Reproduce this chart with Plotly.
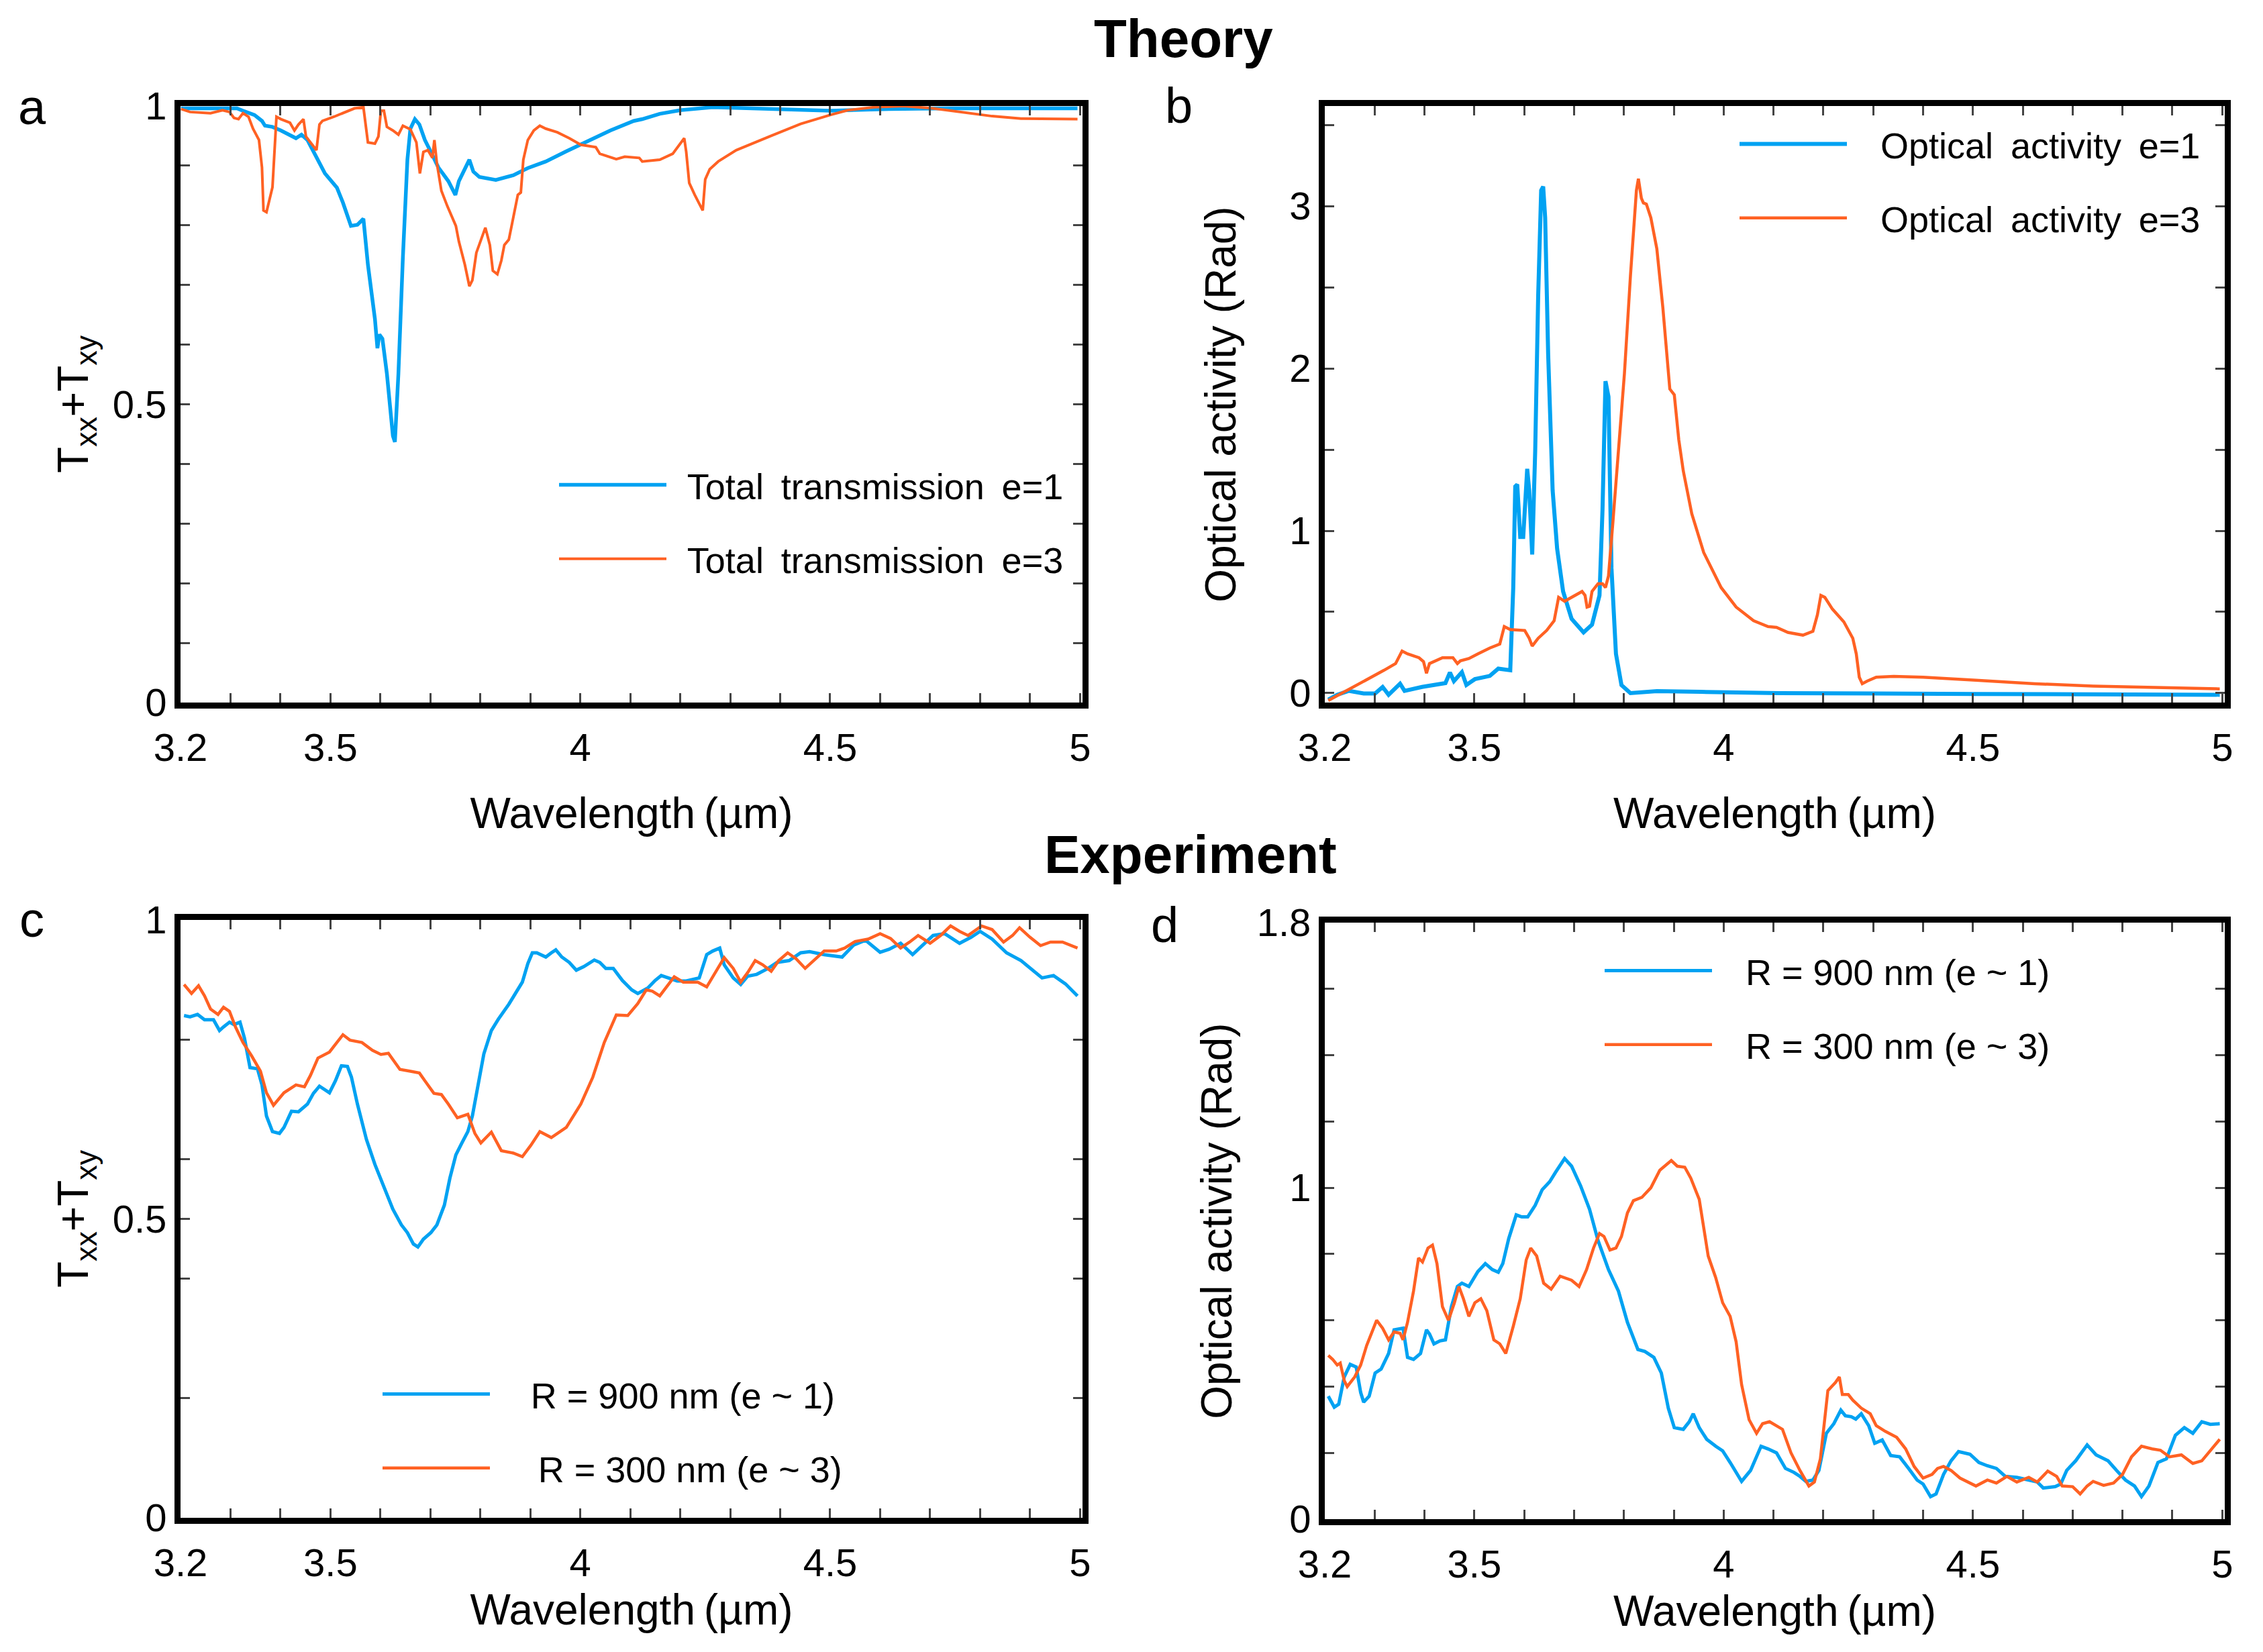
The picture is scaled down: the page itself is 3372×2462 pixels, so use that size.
import plotly.graph_objects as go

# ---------------- data ----------------
# Panel a : Theory, total transmission
a_e1_x = [3.201, 3.313, 3.325, 3.348, 3.363, 3.369, 3.384, 3.401, 3.431, 3.442, 3.454, 3.466, 3.489, 3.513, 3.525,
          3.541, 3.554, 3.566, 3.575, 3.589, 3.594, 3.598, 3.604, 3.613, 3.625, 3.629, 3.636, 3.645, 3.654, 3.660,
          3.669, 3.678, 3.689, 3.701, 3.716, 3.736, 3.750, 3.757, 3.769, 3.778, 3.786, 3.798, 3.831, 3.866, 3.895,
          3.931, 3.972, 4.013, 4.060, 4.107, 4.124, 4.159, 4.200, 4.265, 4.382, 4.500, 4.618, 4.735, 4.995]
a_e1_y = [0.996, 0.996, 0.992, 0.985, 0.975, 0.967, 0.965, 0.959, 0.946, 0.952, 0.943, 0.923, 0.887, 0.863, 0.838,
          0.799, 0.801, 0.811, 0.734, 0.643, 0.594, 0.617, 0.610, 0.551, 0.447, 0.437, 0.551, 0.747, 0.910, 0.962,
          0.978, 0.969, 0.943, 0.923, 0.897, 0.874, 0.851, 0.874, 0.894, 0.910, 0.890, 0.881, 0.876, 0.884, 0.896,
          0.907, 0.924, 0.941, 0.959, 0.975, 0.978, 0.987, 0.993, 0.998, 0.995, 0.992, 0.995, 0.996, 0.996]
a_e3_x = [3.201, 3.219, 3.260, 3.284, 3.298, 3.307, 3.316, 3.325, 3.336, 3.345, 3.357, 3.363, 3.366, 3.372, 3.384,
          3.388, 3.392, 3.401, 3.419, 3.428, 3.436, 3.446, 3.451, 3.460, 3.472, 3.478, 3.484, 3.507, 3.525, 3.548,
          3.566, 3.569, 3.575, 3.589, 3.596, 3.601, 3.607, 3.613, 3.625, 3.636, 3.645, 3.660, 3.672, 3.679, 3.686,
          3.695, 3.704, 3.708, 3.713, 3.722, 3.734, 3.751, 3.757, 3.769, 3.778, 3.784, 3.792, 3.810, 3.819, 3.825,
          3.834, 3.842, 3.848, 3.857, 3.866, 3.875, 3.881, 3.886, 3.895, 3.907, 3.919, 3.931, 3.954, 3.978, 4.001,
          4.031, 4.039, 4.072, 4.089, 4.118, 4.124, 4.159, 4.185, 4.200, 4.208, 4.212, 4.218, 4.229, 4.238, 4.245,
          4.250, 4.259, 4.276, 4.312, 4.382, 4.441, 4.500, 4.535, 4.588, 4.647, 4.706, 4.765, 4.824, 4.882, 4.995]
a_e3_y = [0.995, 0.990, 0.988, 0.993, 0.990, 0.980, 0.978, 0.988, 0.982, 0.962, 0.943, 0.897, 0.825, 0.822, 0.864,
          0.930, 0.982, 0.978, 0.972, 0.959, 0.969, 0.978, 0.949, 0.939, 0.926, 0.969, 0.975, 0.982, 0.988, 0.996,
          0.998, 0.975, 0.939, 0.937, 0.949, 0.992, 0.992, 0.965, 0.959, 0.952, 0.967, 0.961, 0.939, 0.887, 0.923,
          0.926, 0.913, 0.943, 0.904, 0.858, 0.832, 0.799, 0.773, 0.734, 0.698, 0.708, 0.754, 0.796, 0.767, 0.724,
          0.718, 0.741, 0.767, 0.776, 0.812, 0.851, 0.855, 0.910, 0.943, 0.959, 0.967, 0.962, 0.956, 0.946, 0.935,
          0.931, 0.920, 0.911, 0.915, 0.913, 0.907, 0.910, 0.920, 0.936, 0.946, 0.923, 0.871, 0.851, 0.835, 0.825,
          0.877, 0.894, 0.907, 0.926, 0.950, 0.970, 0.985, 0.993, 0.998, 1.000, 0.996, 0.990, 0.983, 0.979, 0.978]

# Panel b : Theory, optical activity (rad)
b_e1_x = [3.207, 3.225, 3.248, 3.278, 3.301, 3.316, 3.328, 3.351, 3.360, 3.395, 3.442, 3.451, 3.459, 3.475, 3.484,
          3.501, 3.531, 3.548, 3.572, 3.578, 3.582, 3.586, 3.592, 3.598, 3.606, 3.610, 3.616, 3.622, 3.628, 3.634,
          3.638, 3.642, 3.648, 3.657, 3.666, 3.678, 3.695, 3.719, 3.736, 3.751, 3.757, 3.763, 3.769, 3.775, 3.784,
          3.795, 3.813, 3.866, 3.954, 4.112, 4.500, 4.995]
b_e1_y = [-0.04, -0.010, 0.014, -0.002, -0.002, 0.038, -0.010, 0.058, 0.014, 0.038, 0.062, 0.127, 0.074, 0.129, 0.050,
          0.086, 0.106, 0.151, 0.141, 0.650, 1.273, 1.285, 0.962, 0.962, 1.381, 1.249, 0.854, 1.489, 2.448, 3.096,
          3.120, 2.928, 2.089, 1.249, 0.890, 0.626, 0.458, 0.374, 0.422, 0.602, 1.129, 1.921, 1.825, 0.770, 0.242,
          0.050, 0.000, 0.012, 0.008, 0.000, -0.005, -0.010]
b_e3_x = [3.207, 3.236, 3.266, 3.295, 3.319, 3.342, 3.351, 3.355, 3.366, 3.389, 3.398, 3.404, 3.410, 3.419, 3.436,
          3.457, 3.466, 3.472, 3.489, 3.507, 3.531, 3.551, 3.560, 3.572, 3.601, 3.610, 3.616, 3.628, 3.645, 3.660,
          3.669, 3.681, 3.701, 3.716, 3.722, 3.726, 3.731, 3.736, 3.748, 3.757, 3.763, 3.769, 3.778, 3.789, 3.801,
          3.813, 3.825, 3.829, 3.835, 3.839, 3.845, 3.854, 3.866, 3.878, 3.892, 3.901, 3.910, 3.919, 3.936, 3.960,
          3.995, 4.025, 4.060, 4.089, 4.106, 4.129, 4.159, 4.179, 4.188, 4.195, 4.203, 4.218, 4.241, 4.259, 4.266,
          4.272, 4.278, 4.288, 4.306, 4.341, 4.400, 4.506, 4.624, 4.741, 4.859, 4.995]
b_e3_y = [-0.046, 0.002, 0.050, 0.098, 0.141, 0.182, 0.242, 0.259, 0.242, 0.218, 0.194, 0.122, 0.182, 0.194, 0.218,
          0.218, 0.182, 0.199, 0.213, 0.242, 0.278, 0.302, 0.410, 0.391, 0.386, 0.338, 0.290, 0.338, 0.386, 0.446,
          0.590, 0.566, 0.602, 0.626, 0.602, 0.530, 0.535, 0.626, 0.674, 0.674, 0.650, 0.722, 1.058, 1.489, 1.969,
          2.568, 3.096, 3.168, 3.048, 3.019, 3.012, 2.928, 2.736, 2.376, 1.873, 1.837, 1.561, 1.369, 1.106, 0.866,
          0.650, 0.530, 0.446, 0.410, 0.405, 0.374, 0.357, 0.381, 0.482, 0.602, 0.590, 0.518, 0.439, 0.338, 0.242,
          0.098, 0.058, 0.074, 0.098, 0.103, 0.098, 0.079, 0.058, 0.043, 0.034, 0.026]

# Panel c : Experiment, total transmission
c_r900_x = [3.207, 3.219, 3.234, 3.248, 3.266, 3.278, 3.286, 3.298, 3.307, 3.319, 3.328, 3.339, 3.354, 3.363, 3.372,
            3.384, 3.398, 3.407, 3.422, 3.436, 3.454, 3.466, 3.478, 3.486, 3.498, 3.510, 3.522, 3.534, 3.542, 3.554,
            3.572, 3.589, 3.607, 3.625, 3.642, 3.654, 3.666, 3.675, 3.686, 3.701, 3.713, 3.728, 3.739, 3.751, 3.763,
            3.775, 3.784, 3.795, 3.807, 3.822, 3.836, 3.857, 3.872, 3.884, 3.895, 3.904, 3.913, 3.931, 3.942, 3.951,
            3.963, 3.978, 3.992, 4.007, 4.028, 4.039, 4.051, 4.066, 4.084, 4.103, 4.115, 4.135, 4.150, 4.162, 4.176,
            4.194, 4.212, 4.238, 4.253, 4.265, 4.279, 4.288, 4.306, 4.321, 4.335, 4.353, 4.376, 4.394, 4.418, 4.441,
            4.459, 4.488, 4.524, 4.547, 4.571, 4.600, 4.618, 4.641, 4.665, 4.682, 4.706, 4.729, 4.759, 4.782, 4.800,
            4.824, 4.853, 4.882, 4.924, 4.947, 4.971, 4.995]
c_r900_y = [0.840, 0.838, 0.842, 0.833, 0.833, 0.815, 0.821, 0.829, 0.825, 0.829, 0.802, 0.753, 0.751, 0.724, 0.672,
            0.646, 0.643, 0.653, 0.680, 0.679, 0.692, 0.710, 0.722, 0.718, 0.711, 0.731, 0.756, 0.755, 0.737, 0.692,
            0.633, 0.591, 0.555, 0.516, 0.490, 0.477, 0.458, 0.453, 0.466, 0.477, 0.490, 0.523, 0.568, 0.607, 0.627,
            0.646, 0.672, 0.724, 0.776, 0.815, 0.834, 0.859, 0.880, 0.896, 0.927, 0.945, 0.945, 0.938, 0.945, 0.950,
            0.938, 0.929, 0.916, 0.922, 0.933, 0.929, 0.919, 0.919, 0.899, 0.883, 0.877, 0.886, 0.899, 0.907, 0.903,
            0.898, 0.898, 0.903, 0.942, 0.948, 0.953, 0.925, 0.903, 0.892, 0.906, 0.909, 0.919, 0.929, 0.932, 0.945,
            0.947, 0.942, 0.938, 0.958, 0.966, 0.946, 0.951, 0.961, 0.942, 0.955, 0.974, 0.977, 0.961, 0.971, 0.981,
            0.968, 0.945, 0.932, 0.903, 0.907, 0.893, 0.873]
c_r300_x = [3.207, 3.222, 3.236, 3.248, 3.260, 3.275, 3.286, 3.298, 3.310, 3.325, 3.342, 3.360, 3.372, 3.386, 3.407,
            3.431, 3.448, 3.460, 3.475, 3.498, 3.510, 3.525, 3.539, 3.563, 3.584, 3.601, 3.616, 3.639, 3.660, 3.678,
            3.689, 3.707, 3.722, 3.736, 3.754, 3.775, 3.789, 3.801, 3.822, 3.842, 3.866, 3.884, 3.901, 3.919, 3.942,
            3.972, 4.001, 4.025, 4.048, 4.072, 4.095, 4.115, 4.132, 4.144, 4.159, 4.174, 4.188, 4.206, 4.235, 4.253,
            4.271, 4.288, 4.306, 4.321, 4.335, 4.350, 4.365, 4.382, 4.397, 4.415, 4.432, 4.450, 4.471, 4.488, 4.512,
            4.529, 4.550, 4.576, 4.600, 4.621, 4.641, 4.659, 4.676, 4.700, 4.721, 4.741, 4.759, 4.776, 4.803, 4.824,
            4.847, 4.865, 4.879, 4.900, 4.921, 4.941, 4.965, 4.995]
c_r300_y = [0.892, 0.877, 0.890, 0.873, 0.851, 0.842, 0.854, 0.847, 0.821, 0.795, 0.773, 0.747, 0.711, 0.690, 0.711,
            0.724, 0.721, 0.740, 0.769, 0.779, 0.792, 0.808, 0.799, 0.795, 0.782, 0.775, 0.777, 0.750, 0.747, 0.744,
            0.731, 0.710, 0.708, 0.692, 0.669, 0.675, 0.643, 0.627, 0.645, 0.614, 0.610, 0.604, 0.623, 0.646, 0.636,
            0.653, 0.692, 0.737, 0.795, 0.841, 0.840, 0.860, 0.883, 0.881, 0.873, 0.890, 0.905, 0.896, 0.896, 0.888,
            0.912, 0.937, 0.919, 0.896, 0.912, 0.932, 0.925, 0.914, 0.932, 0.945, 0.935, 0.919, 0.935, 0.948, 0.948,
            0.953, 0.964, 0.968, 0.977, 0.969, 0.953, 0.963, 0.974, 0.961, 0.974, 0.990, 0.981, 0.974, 0.990, 0.984,
            0.963, 0.974, 0.987, 0.971, 0.957, 0.963, 0.963, 0.953]

# Panel d : Experiment, optical activity (rad)
d_r900_x = [3.207, 3.219, 3.228, 3.239, 3.251, 3.263, 3.272, 3.278, 3.289, 3.301, 3.313, 3.328, 3.339, 3.357, 3.366,
            3.378, 3.392, 3.404, 3.410, 3.419, 3.431, 3.442, 3.454, 3.466, 3.475, 3.489, 3.507, 3.522, 3.536, 3.548,
            3.557, 3.569, 3.584, 3.595, 3.607, 3.622, 3.636, 3.651, 3.663, 3.681, 3.695, 3.713, 3.731, 3.748, 3.769,
            3.789, 3.807, 3.828, 3.842, 3.860, 3.875, 3.889, 3.901, 3.919, 3.931, 3.939, 3.951, 3.966, 3.984, 3.998,
            4.013, 4.036, 4.054, 4.075, 4.089, 4.106, 4.124, 4.141, 4.153, 4.165, 4.179, 4.191, 4.206, 4.221, 4.235,
            4.244, 4.256, 4.265, 4.276, 4.291, 4.303, 4.318, 4.335, 4.353, 4.371, 4.388, 4.400, 4.415, 4.426, 4.441,
            4.456, 4.471, 4.494, 4.512, 4.529, 4.547, 4.565, 4.588, 4.612, 4.629, 4.641, 4.665, 4.676, 4.688, 4.706,
            4.729, 4.747, 4.771, 4.788, 4.806, 4.824, 4.838, 4.853, 4.871, 4.888, 4.906, 4.924, 4.941, 4.959, 4.976,
            4.995]
d_r900_y = [0.371, 0.338, 0.347, 0.429, 0.467, 0.459, 0.382, 0.353, 0.371, 0.441, 0.453, 0.500, 0.571, 0.576, 0.488,
            0.482, 0.500, 0.571, 0.559, 0.529, 0.538, 0.541, 0.641, 0.702, 0.712, 0.702, 0.747, 0.771, 0.753, 0.745,
            0.771, 0.847, 0.918, 0.912, 0.912, 0.947, 0.994, 1.018, 1.047, 1.088, 1.065, 1.006, 0.935, 0.841, 0.753,
            0.688, 0.594, 0.512, 0.506, 0.488, 0.441, 0.335, 0.276, 0.271, 0.294, 0.318, 0.276, 0.241, 0.220, 0.206,
            0.171, 0.114, 0.147, 0.220, 0.212, 0.200, 0.153, 0.141, 0.129, 0.114, 0.118, 0.147, 0.259, 0.288, 0.329,
            0.312, 0.309, 0.302, 0.318, 0.282, 0.229, 0.239, 0.192, 0.188, 0.153, 0.118, 0.106, 0.068, 0.076, 0.135,
            0.176, 0.204, 0.196, 0.171, 0.161, 0.153, 0.129, 0.126, 0.118, 0.112, 0.094, 0.098, 0.106, 0.147, 0.176,
            0.224, 0.194, 0.176, 0.147, 0.118, 0.100, 0.068, 0.100, 0.171, 0.182, 0.253, 0.276, 0.259, 0.294, 0.286,
            0.288]
d_r300_x = [3.207, 3.216, 3.225, 3.231, 3.239, 3.245, 3.260, 3.272, 3.284, 3.304, 3.316, 3.328, 3.339, 3.351, 3.357,
            3.366, 3.378, 3.388, 3.396, 3.407, 3.416, 3.425, 3.436, 3.448, 3.460, 3.469, 3.478, 3.489, 3.501, 3.513,
            3.525, 3.539, 3.551, 3.563, 3.578, 3.592, 3.604, 3.613, 3.625, 3.639, 3.654, 3.672, 3.695, 3.710, 3.725,
            3.739, 3.751, 3.760, 3.772, 3.784, 3.795, 3.807, 3.819, 3.836, 3.854, 3.872, 3.895, 3.907, 3.922, 3.934,
            3.951, 3.969, 3.984, 3.998, 4.013, 4.025, 4.036, 4.051, 4.066, 4.078, 4.092, 4.118, 4.135, 4.153, 4.171,
            4.182, 4.194, 4.209, 4.224, 4.232, 4.238, 4.250, 4.259, 4.276, 4.294, 4.306, 4.324, 4.347, 4.365, 4.382,
            4.400, 4.418, 4.429, 4.441, 4.456, 4.474, 4.506, 4.529, 4.547, 4.568, 4.588, 4.612, 4.629, 4.650, 4.668,
            4.679, 4.700, 4.715, 4.729, 4.741, 4.762, 4.782, 4.800, 4.818, 4.838, 4.859, 4.876, 4.894, 4.918, 4.941,
            4.959, 4.976, 4.995]
d_r300_y = [0.494, 0.482, 0.465, 0.471, 0.418, 0.400, 0.429, 0.465, 0.524, 0.600, 0.576, 0.541, 0.565, 0.561, 0.541,
            0.594, 0.688, 0.788, 0.776, 0.818, 0.827, 0.771, 0.641, 0.600, 0.653, 0.702, 0.665, 0.612, 0.653, 0.665,
            0.629, 0.541, 0.529, 0.500, 0.582, 0.665, 0.782, 0.818, 0.794, 0.712, 0.694, 0.733, 0.721, 0.702, 0.753,
            0.818, 0.862, 0.853, 0.812, 0.818, 0.853, 0.924, 0.961, 0.971, 1.000, 1.053, 1.082, 1.065, 1.062, 1.029,
            0.965, 0.794, 0.729, 0.653, 0.612, 0.535, 0.406, 0.300, 0.259, 0.288, 0.294, 0.271, 0.200, 0.147, 0.100,
            0.112, 0.182, 0.388, 0.412, 0.429, 0.376, 0.376, 0.359, 0.335, 0.318, 0.282, 0.265, 0.247, 0.212, 0.159,
            0.124, 0.135, 0.153, 0.159, 0.147, 0.124, 0.100, 0.118, 0.109, 0.129, 0.112, 0.126, 0.112, 0.145, 0.129,
            0.100, 0.098, 0.076, 0.100, 0.114, 0.102, 0.109, 0.135, 0.188, 0.220, 0.212, 0.208, 0.188, 0.194, 0.168,
            0.176, 0.206, 0.241]

# tick labels
x_tickvals = [3.2, 3.5, 4, 4.5, 5]
x_ticktext = ["3.2", "3.5", "4", "4.5", "5"]
yt_trans = [0, 0.5, 1]
yt_trans_text = ["0", "0.5", "1"]
yt_theory_oa = [0, 1, 2, 3]
yt_theory_oa_text = ["0", "1", "2", "3"]
yt_exp_oa = [0, 1, 1.8]
yt_exp_oa_text = ["0", "1", "1.8"]

NB = "\u00a0"
TH = "\u2009"
names_a = [NB + TH + "Total" + TH + " transmission" + TH + " e=1", NB + TH + "Total" + TH + " transmission" + TH + " e=3"]
names_b = [NB * 3 + "Optical" + TH + " activity" + TH + " e=1", NB * 3 + "Optical" + TH + " activity" + TH + " e=3"]
names_c = [NB * 3 + TH + "R = 900 nm (e ~ 1)", NB * 3 + TH + TH + "R = 300 nm (e ~ 3)"]
names_d = [NB * 3 + "R = 900 nm (e ~ 1)", NB * 3 + "R = 300 nm (e ~ 3)"]

# ---------------- styling ----------------
W, H = 3372, 2462
BLUE = "#00A2F2"
ORANGE = "#FF6123"
FONT = "Liberation Sans, Arial, sans-serif"

fig = go.Figure()

def add(x, y, color, width, name, xa, ya, leg, grp):
    fig.add_trace(go.Scatter(x=x, y=y, mode="lines", name=name,
                             line=dict(color=color, width=width, shape="linear"),
                             xaxis=xa, yaxis=ya, legend=leg, legendgroup=grp,
                             showlegend=True))

add(a_e1_x, a_e1_y, BLUE, 5.5, names_a[0], "x", "y", "legend", "a1")
add(a_e3_x, a_e3_y, ORANGE, 4, names_a[1], "x", "y", "legend", "a3")
add(b_e1_x, b_e1_y, BLUE, 6, names_b[0], "x2", "y2", "legend2", "b1")
add(b_e3_x, b_e3_y, ORANGE, 4.5, names_b[1], "x2", "y2", "legend2", "b3")
add(c_r900_x, c_r900_y, BLUE, 5, names_c[0], "x3", "y3", "legend3", "c1")
add(c_r300_x, c_r300_y, ORANGE, 4.5, names_c[1], "x3", "y3", "legend3", "c3")
add(d_r900_x, d_r900_y, BLUE, 5, names_d[0], "x4", "y4", "legend4", "d1")
add(d_r300_x, d_r300_y, ORANGE, 4.5, names_d[1], "x4", "y4", "legend4", "d3")

XL = [269 / W, 1613 / W]
XR = [1974 / W, 3315 / W]
YT = [1 - 1047 / H, 1 - 158 / H]
YB = [1 - 2262 / H, 1 - 1371 / H]
YB2 = [1 - 2264 / H, 1 - 1375 / H]

tickfont = dict(family=FONT, size=58, color="black")

def xaxis(domain, anchor, standoff):
    return dict(domain=domain, anchor=anchor, range=[3.2, 5.005], tickvals=x_tickvals, ticktext=x_ticktext,
                ticks="inside", ticklen=14, tickwidth=2.5, tickcolor="#444",
                minor=dict(ticks="inside", ticklen=14, tickwidth=2.5, tickcolor="#444", dtick=0.1, tick0=3.2),
                showline=True, linecolor="black", linewidth=9, mirror="allticks",
                showgrid=False, zeroline=False, tickfont=tickfont, ticklabelstandoff=8,
                automargin=False,
                title=dict(text="Wavelength\u2009(\u00b5m)", font=dict(family=FONT, size=64, color="black"),
                           standoff=standoff))

def yaxis(domain, anchor, rng, tv, tt, mdt, title, tfont, standoff):
    return dict(domain=domain, anchor=anchor, range=rng, tickvals=tv, ticktext=tt,
                ticks="inside", ticklen=14, tickwidth=2.5, tickcolor="#444",
                minor=dict(ticks="inside", ticklen=14, tickwidth=2.5, tickcolor="#444", dtick=mdt, tick0=0),
                showline=True, linecolor="black", linewidth=9, mirror="allticks",
                showgrid=False, zeroline=False, tickfont=tickfont, ticklabelstandoff=0,
                automargin=False,
                title=dict(text=title, font=tfont, standoff=standoff))

TXY = "T<sub>xx</sub>+T<sub>xy</sub>"
OA = "Optical activity (Rad)"
f_txy = dict(family=FONT, size=64, color="black")
f_oa = dict(family=FONT, size=64, color="black")

legfont = dict(family=FONT, size=54, color="black")

def legend(x, y):
    return dict(x=x, y=y, xanchor="left", yanchor="top", font=legfont, bgcolor="rgba(0,0,0,0)",
                itemwidth=160, tracegroupgap=37, borderwidth=0)

fig.update_layout(
    width=W, height=H, margin=dict(l=0, r=0, t=0, b=0, autoexpand=False),
    paper_bgcolor="white", plot_bgcolor="white",
    xaxis=xaxis(XL, "y", 48),
    yaxis=yaxis(YT, "x", [0, 1.0], yt_trans, yt_trans_text, 0.1, TXY, f_txy, 19),
    xaxis2=xaxis(XR, "y2", 48),
    yaxis2=yaxis(YT, "x2", [-0.058, 3.616], yt_theory_oa, yt_theory_oa_text, 0.5, OA, f_oa, 62),
    xaxis3=xaxis(XL, "y3", 20),
    yaxis3=yaxis(YB, "x3", [0, 1.0], yt_trans, yt_trans_text, 0.2, TXY, f_txy, 19),
    xaxis4=xaxis(XR, "y4", 20),
    yaxis4=yaxis(YB2, "x4", [0, 1.8], yt_exp_oa, yt_exp_oa_text, 0.2, OA, f_oa, 20),
    legend=legend(828 / W, 1 - 681 / H),
    legend2=legend(2587 / W, 1 - 173 / H),
    legend3=legend(565 / W, 1 - 2036 / H),
    legend4=legend(2386 / W, 1 - 1405 / H),
    showlegend=True,
)

BOLD = dict(family=FONT, size=80, color="black")
LET = dict(family=FONT, size=74, color="black")
annots = [
    ("<b>Theory</b>", 1763, 58, BOLD),
    ("<b>Experiment</b>", 1774, 1273, BOLD),
    ("a", 48, 160, LET),
    ("b", 1756, 158, LET),
    ("c", 47, 1370, LET),
    ("d", 1735, 1378, LET),
]
for text, px, py, font in annots:
    fig.add_annotation(text=text, x=px / W, y=1 - py / H, xref="paper", yref="paper",
                       xanchor="center", yanchor="middle", showarrow=False, font=font)

fig.write_html("out.html")
